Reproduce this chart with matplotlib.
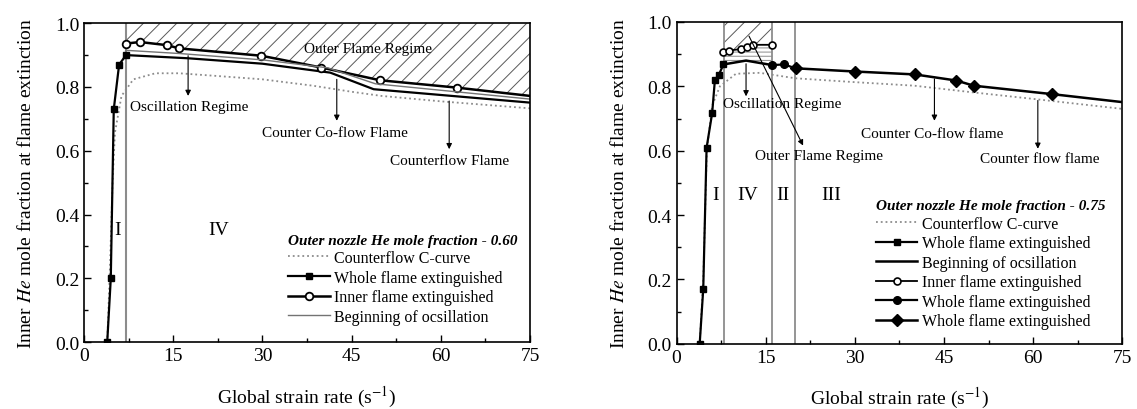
"""Inner He mole fraction at flame extinction vs global strain rate"""

import numpy as np
import matplotlib
matplotlib.use("Agg")
import matplotlib.pyplot as plt

plt.rcParams["font.family"] = ["Liberation Serif", "DejaVu Serif"]
plt.rcParams["mathtext.fontset"] = "stix"
plt.rcParams["hatch.linewidth"] = 0.7

# left panel: outer nozzle He 0.60
l_cc_x = [3.9, 4.3, 4.8, 5.2, 6.3, 8.3, 12.0, 16.0, 22.0, 30.0, 38.5, 45.0, 50.0, 60.0, 75.0]
l_cc_y = [0.0, 0.2, 0.5, 0.657, 0.772, 0.824, 0.843, 0.843, 0.835, 0.824, 0.804, 0.785, 0.772, 0.755, 0.733]
l_whole_x = [3.9, 4.5, 5.0, 5.9, 7.06, 17.5, 30.0, 41.4, 48.7, 75.0]
l_whole_y = [0.0, 0.20, 0.73, 0.87, 0.90, 0.89, 0.873, 0.845, 0.793, 0.751]
l_inner_x = [7.0, 9.4, 14.0, 16.0, 29.8, 39.9, 49.8, 62.7, 75.0]
l_inner_y = [0.936, 0.941, 0.931, 0.921, 0.898, 0.861, 0.821, 0.798, 0.772]
l_osc_x = [7.0, 16.0, 30.0, 41.0, 49.0, 75.0]
l_osc_y = [0.915, 0.905, 0.885, 0.86, 0.81, 0.762]
l_vlines = [7.0]

# right panel: outer nozzle He 0.75
r_cc_x = [3.9, 4.5, 5.1, 6.0, 7.3, 10.0, 14.0, 20.0, 30.0, 40.0, 50.0, 60.0, 75.0]
r_cc_y = [0.0, 0.2, 0.6, 0.74, 0.80, 0.839, 0.842, 0.825, 0.813, 0.802, 0.781, 0.761, 0.73]
r_sq_x = [3.9, 4.5, 5.06, 6.0, 6.46, 7.1, 7.9]
r_sq_y = [0.0, 0.171, 0.609, 0.717, 0.82, 0.835, 0.868]
r_osc_x = [7.9, 11.7, 16.1]
r_osc_y = [0.868, 0.88, 0.866]
r_inner_x = [7.86, 8.87, 10.8, 11.9, 12.9, 16.1]
r_inner_y = [0.906, 0.911, 0.916, 0.923, 0.929, 0.929]
r_dot_x = [16.1, 18.1, 20.05]
r_dot_y = [0.866, 0.868, 0.856]
r_dia_x = [20.05, 30.05, 40.1, 47.1, 50.0, 63.1, 75.0]
r_dia_y = [0.856, 0.846, 0.837, 0.818, 0.802, 0.776, 0.751]
r_vlines = [8.0, 16.0, 20.0]

fig = plt.figure(figsize=(11.37, 4.10), dpi=100)
ax1 = fig.add_axes([0.0739, 0.163, 0.3923, 0.778])
ax2 = fig.add_axes([0.595, 0.159, 0.392, 0.785])

gray = "0.55"


def style_axes(ax):
    ax.set_xlim(0, 75)
    ax.set_ylim(0, 1.0)
    ax.set_xticks([0, 15, 30, 45, 60, 75])
    ax.set_xticks(np.arange(7.5, 75, 15), minor=True)
    ax.set_yticks(np.arange(0, 1.01, 0.2))
    ax.set_yticks(np.arange(0.1, 1.0, 0.2), minor=True)
    ax.yaxis.set_major_formatter(matplotlib.ticker.FormatStrFormatter("%.1f"))
    ax.tick_params(which="both", direction="in", labelsize=14, top=False, right=False)
    ax.tick_params(which="major", length=5, width=1)
    ax.tick_params(which="minor", length=3, width=1)
    for s in ax.spines.values():
        s.set_linewidth(1.2)
    ax.set_xlabel("Global strain rate (s$^{-1}$)", fontsize=14, labelpad=14)
    ax.set_ylabel("Inner $He$ mole fraction at flame extinction", fontsize=14, labelpad=14)


def arrow(ax, x0, y0, x1, y1):
    ax.annotate("", xy=(x1, y1), xytext=(x0, y0),
                arrowprops=dict(arrowstyle="-|>", lw=0.8, color="k", mutation_scale=8,
                                shrinkA=0, shrinkB=0))


# ---- left ----
style_axes(ax1)
for v in l_vlines:
    ax1.axvline(v, color=gray, lw=1.5, zorder=1)
ax1.fill_between(l_inner_x, l_inner_y, 1.0, facecolor="none", edgecolor="0.35",
                 hatch="//", lw=0, zorder=0)
ax1.plot(l_cc_x, l_cc_y, ls=":", color=gray, lw=1.3, label="Counterflow C-curve")
ax1.plot(l_whole_x, l_whole_y, color="k", lw=1.6, marker="s", ms=5,
         markevery=slice(0, 5), label="Whole flame extinguished")
ax1.plot(l_inner_x, l_inner_y, color="k", lw=1.8, marker="o", ms=5.5, mfc="white",
         mew=1.3, markevery=slice(0, -1), label="Inner flame extinguished")
ax1.plot(l_osc_x, l_osc_y, color="0.45", lw=1.0, label="Beginning of ocsillation")

ax1.text(47.7, 0.92, "Outer Flame Regime", fontsize=11, ha="center", va="center")
ax1.text(17.6, 0.739, "Oscillation Regime", fontsize=11, ha="center", va="center")
ax1.text(42.2, 0.657, "Counter Co-flow Flame", fontsize=11, ha="center", va="center")
ax1.text(61.4, 0.57, "Counterflow Flame", fontsize=11, ha="center", va="center")
arrow(ax1, 17.5, 0.898, 17.5, 0.772)
arrow(ax1, 42.5, 0.824, 42.5, 0.694)
arrow(ax1, 61.4, 0.756, 61.4, 0.605)
ax1.text(5.7, 0.354, "I", fontsize=14, ha="center", va="center")
ax1.text(22.7, 0.354, "IV", fontsize=14, ha="center", va="center")

ax1.legend(loc="lower right", bbox_to_anchor=(0.99, 0.03), frameon=False,
           title="Outer nozzle He mole fraction - 0.60",
           title_fontproperties={"weight": "bold", "style": "italic", "size": 11},
           alignment="left", fontsize=11.5, handlelength=2.6, handletextpad=0.3,
           labelspacing=0.22, borderpad=0)

# ---- right ----
style_axes(ax2)
for v in r_vlines:
    ax2.axvline(v, color=gray, lw=1.3, zorder=1)
ax2.fill_between(r_inner_x, r_inner_y, 1.0, facecolor="none", edgecolor="0.35",
                 hatch="//", lw=0, zorder=0)
xs = np.linspace(r_osc_x[0], r_osc_x[-1], 50)
ax2.fill_between(xs, np.interp(xs, r_osc_x, r_osc_y), np.interp(xs, r_inner_x, r_inner_y),
                 facecolor="none", edgecolor="0.55", hatch="----", lw=0, zorder=0)
ax2.plot(r_cc_x, r_cc_y, ls=":", color=gray, lw=1.3, label="Counterflow C-curve")
ax2.plot(r_sq_x, r_sq_y, color="k", lw=1.6, marker="s", ms=5, label="Whole flame extinguished")
ax2.plot(r_osc_x, r_osc_y, color="k", lw=1.8, label="Beginning of ocsillation")
ax2.plot(r_inner_x, r_inner_y, color="k", lw=1.3, marker="o", ms=5, mfc="white",
         mew=1.2, label="Inner flame extinguished")
ax2.plot(r_dot_x, r_dot_y, color="k", lw=1.6, marker="o", ms=5.5, label="Whole flame extinguished")
ax2.plot(r_dia_x, r_dia_y, color="k", lw=1.8, marker="D", ms=6,
         markevery=slice(0, -1), label="Whole flame extinguished")

ax2.text(17.7, 0.748, "Oscillation Regime", fontsize=11, ha="center", va="center")
ax2.text(24.0, 0.585, "Outer Flame Regime", fontsize=11, ha="center", va="center")
ax2.text(43.0, 0.654, "Counter Co-flow flame", fontsize=11, ha="center", va="center")
ax2.text(61.2, 0.575, "Counter flow flame", fontsize=11, ha="center", va="center")
arrow(ax2, 11.7, 0.87, 11.7, 0.769)
arrow(ax2, 12.2, 0.956, 21.3, 0.616)
arrow(ax2, 43.4, 0.823, 43.4, 0.693)
arrow(ax2, 60.8, 0.756, 60.8, 0.606)
for xt, lab in zip([6.6, 12.0, 17.9, 26.1], ["I", "IV", "II", "III"]):
    ax2.text(xt, 0.464, lab, fontsize=14, ha="center", va="center")

ax2.legend(loc="lower right", bbox_to_anchor=(0.98, 0.02), frameon=False,
           title="Outer nozzle He mole fraction - 0.75",
           title_fontproperties={"weight": "bold", "style": "italic", "size": 11},
           alignment="left", fontsize=11.5, handlelength=2.6, handletextpad=0.3,
           labelspacing=0.22, borderpad=0)

fig.savefig("out.png", dpi=100)
